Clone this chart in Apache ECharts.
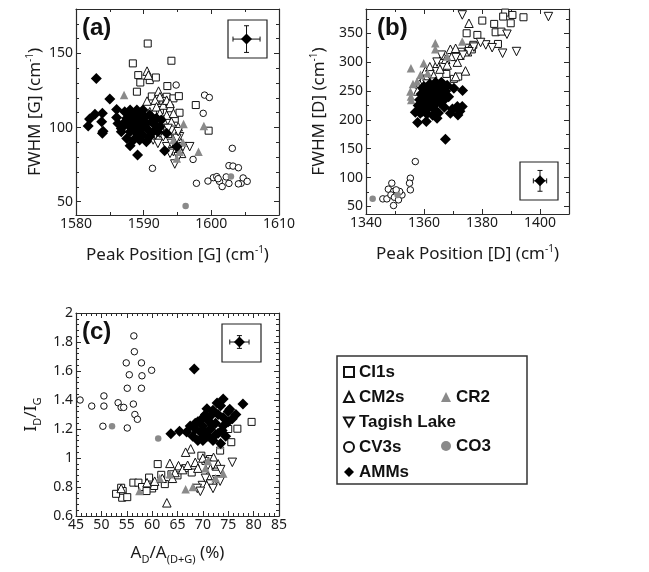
<!DOCTYPE html>
<html><head><meta charset="utf-8">
<script src="https://cdn.jsdelivr.net/npm/echarts@6/dist/echarts.min.js"></script>
<style>html,body{margin:0;padding:0;background:#fff}#c{width:649px;height:572px}</style>
</head><body><div id="c"></div>
<script>
// ---------- Panel (a): Peak Position [G] vs FWHM [G] ----------
const a_CI1s = [[1590.6,156.7],[1588.4,143.3],[1594.1,145.1],[1589.2,135.4],[1589.5,130.4],[1590.9,132.0],[1591.8,133.8],[1589.0,124.2],[1593.5,128.0],[1593.4,120.8],[1594.4,119.7],[1595.2,121.2],[1597.7,115.2],[1599.6,97.9],[1592.4,111.8],[1593.9,113.0],[1594.6,106.0],[1595.3,110.0],[1592.9,118.0],[1591.2,121.0]];
const a_CM2s = [[1590.5,138.1],[1590.7,135.4],[1590.5,117.9],[1592.2,124.6],[1592.4,120.8],[1591.7,118.5],[1592.9,115.2],[1593.4,118.5],[1593.9,116.3],[1591.9,114.0],[1590.9,110.7],[1592.4,109.6],[1593.4,108.4],[1594.4,109.6],[1592.9,105.1],[1594.1,103.9],[1591.7,106.2],[1595.1,100.6],[1594.6,97.2],[1593.6,96.1],[1595.3,91.6],[1592.4,101.7],[1591.2,100.6],[1595.6,82.6]];
const a_Tagish = [[1591.4,91.6],[1592.1,89.3],[1592.9,93.8],[1593.4,87.1],[1594.1,89.3],[1594.4,83.7],[1594.6,75.4],[1595.1,80.3],[1595.8,87.1],[1596.8,87.1],[1595.3,93.8],[1592.4,96.1],[1593.6,99.4],[1594.9,92.7],[1593.9,82.6],[1591.7,94.9],[1595.1,97.2]];
const a_CV3s = [[1594.8,128.7],[1599.0,121.9],[1599.7,120.3],[1598.8,109.6],[1597.3,78.5],[1591.3,72.5],[1597.8,62.4],[1603.1,86.0],[1602.6,74.3],[1603.2,74.0],[1604.0,72.9],[1599.5,63.9],[1600.3,66.2],[1600.8,66.9],[1601.2,63.7],[1601.6,60.2],[1602.2,66.7],[1604.4,62.4],[1604.7,66.0],[1605.3,63.7],[1604.0,62.0],[1601.0,65.5],[1602.6,62.3]];
const a_CR2 = [[1587.1,121.9],[1595.9,102.4],[1598.9,101.0],[1598.1,83.7],[1594.9,79.2],[1595.3,83.7],[1590.9,105.5],[1591.9,104.5],[1594.4,91.6],[1595.8,90.0],[1589.5,104.0]];
const a_CO3 = [[1596.2,47.1],[1602.9,66.9]];
const a_AMMs = [[1583.0,133.1],[1585.0,119.2],[1582.8,108.9],[1582.0,105.7],[1581.8,101.0],[1583.8,103.9],[1583.9,109.6],[1583.9,96.1],[1584.0,97.5],[1586.0,112.2],[1586.0,106.8],[1586.2,102.8],[1586.7,99.4],[1587.0,102.8],[1587.2,110.7],[1587.5,106.2],[1587.7,101.7],[1588.0,97.2],[1588.2,109.6],[1588.5,105.1],[1588.7,100.6],[1589.0,96.1],[1589.2,108.4],[1589.4,103.9],[1589.7,99.4],[1589.9,94.9],[1590.2,107.3],[1590.4,102.8],[1590.7,98.3],[1590.9,93.8],[1587.5,92.7],[1588.5,91.6],[1589.4,91.6],[1590.4,90.4],[1591.4,97.2],[1591.7,101.7],[1591.9,106.2],[1592.1,97.2],[1592.4,100.6],[1592.6,105.1],[1587.0,101.7],[1586.7,97.2],[1588.0,111.8],[1589.0,111.8],[1589.9,111.8],[1590.9,108.4],[1591.2,103.9],[1588.0,87.8],[1589.1,81.5],[1593.1,84.4],[1594.9,87.1],[1593.4,96.1],[1588.2,104.0],[1589.0,103.0],[1590.0,104.5],[1588.6,98.5],[1587.9,106.5],[1589.6,106.5]];
const a_err = [[1605.2,159.7,2.0,9]];
const a_xTicks = [1580,1590,1600,1610];
const a_yTicks = [50,100,150];

// ---------- Panel (b): Peak Position [D] vs FWHM [D] ----------
const b_CI1s = [[1394.3,377.7],[1388.0,385.8],[1387.3,378.9],[1390.5,381.7],[1384.2,366.2],[1380.1,371.9],[1378.4,347.1],[1374.7,350.0],[1384.7,351.7],[1386.7,352.9],[1389.9,367.3],[1385.5,331.5],[1375.5,325.0],[1377.0,330.0],[1366.2,292.3],[1367.7,279.6],[1370.3,271.0],[1371.8,275.0],[1372.7,318.0],[1376.5,322.0]];
const b_CM2s = [[1375.5,367.3],[1369.1,322.3],[1370.9,324.0],[1372.4,312.0],[1369.6,310.0],[1366.5,312.0],[1367.5,305.0],[1374.3,284.8],[1364.5,298.0],[1362.0,292.0],[1360.5,285.0],[1359.6,270.0],[1358.5,262.0],[1357.8,250.0],[1363.0,280.0],[1365.5,288.0],[1370.9,275.0],[1368.0,295.0],[1371.5,300.0],[1375.0,318.0]];
const b_Tagish = [[1373.2,381.7],[1402.9,378.9],[1388.6,348.3],[1387.1,315.4],[1391.9,318.3],[1381.3,329.8],[1379.5,334.0],[1377.2,326.0],[1375.5,318.0],[1373.5,312.0],[1371.0,308.0],[1366.0,312.0],[1364.5,300.0],[1362.0,278.0],[1361.0,262.0],[1383.5,325.0]];
const b_CV3s = [[1357.0,127.8],[1355.3,99.0],[1355.0,90.4],[1355.3,78.8],[1348.9,90.4],[1347.7,80.0],[1349.5,76.0],[1350.6,73.4],[1345.8,63.2],[1347.2,63.2],[1348.6,70.0],[1349.8,66.0],[1349.5,51.7],[1351.2,61.5],[1352.4,70.0],[1351.6,76.0],[1350.4,78.8]];
const b_CR2 = [[1355.5,289.4],[1355.3,249.0],[1355.5,240.4],[1355.6,234.6],[1363.9,332.7],[1363.9,322.3],[1359.9,298.1],[1357.6,266.3],[1361.3,280.8],[1368.0,309.6],[1373.2,335.6],[1358.8,278.0],[1356.2,262.0]];
const b_CO3 = [[1342.3,63.2],[1350.9,70.0]];
const b_AMMs = [[1367.4,166.5],[1357.8,195.4],[1360.8,197.1],[1364.5,202.9],[1369.1,211.5],[1371.7,208.6],[1371.5,223.1],[1373.2,223.1],[1373.3,250.8],[1370.3,254.8],[1357.0,213.2],[1358.7,211.5],[1363.9,217.3],[1372.4,215.0],[1369.8,219.0],[1358.0,225],[1358.5,235],[1359.0,245],[1359.5,215],[1360.0,230],[1360.5,240],[1361.0,250],[1361.5,220],[1362.0,235],[1362.5,245],[1363.0,255],[1363.5,225],[1364.0,240],[1364.5,250],[1365.0,260],[1365.5,230],[1366.0,245],[1366.5,255],[1367.0,235],[1367.5,250],[1368.0,260],[1362.0,262],[1364.0,265],[1366.0,265],[1360.0,258],[1361.0,210],[1363.0,208],[1365.0,212],[1367.0,222],[1368.5,240],[1359.5,255],[1362.5,228],[1364.5,232],[1366.5,238],[1360.5,222]];
const b_err = [[1400.0,94.4,2.3,18]];
const b_xTicks = [1340,1360,1380,1400];
const b_yTicks = [50,100,150,200,250,300,350];

// ---------- Panel (c): A_D/A_(D+G) vs I_D/I_G ----------
const c_CI1s = [[79.6,1.249],[76.8,1.202],[75.6,1.109],[73.4,1.051],[61.1,0.958],[63.8,0.888],[61.8,0.884],[59.4,0.865],[56.3,0.83],[57.3,0.83],[53.9,0.795],[54.2,0.772],[54.1,0.726],[52.9,0.753],[55.1,0.730],[69.7,1.016],[71.4,0.993],[70.5,0.98],[72.5,0.94],[66.5,0.93],[65.0,0.88],[62.5,0.82],[60.0,0.79],[58.0,0.80],[67.8,0.90],[75.0,1.20],[58.9,0.772],[60.4,0.807]];
const c_CM2s = [[67.6,1.063],[66.6,1.04],[63.5,0.963],[65.2,0.947],[62.9,0.691],[53.9,0.79],[59.0,0.83],[60.5,0.84],[62.0,0.86],[64.5,0.90],[66.0,0.92],[68.5,0.97],[70.0,1.00],[72.1,1.005],[73.0,0.96],[69.0,0.93],[71.0,0.88],[67.0,0.95],[64.0,0.86]];
const c_Tagish = [[75.8,0.97],[71.0,0.95],[72.0,0.95],[72.7,0.85],[73.4,0.84],[69.9,0.81],[68.9,0.79],[70.5,0.86],[71.5,0.82],[73.5,0.92],[69.5,0.77],[72.0,0.79]];
const c_CV3s = [[56.4,1.842],[56.5,1.733],[54.9,1.656],[55.5,1.574],[57.9,1.656],[58.0,1.567],[59.9,1.605],[55.1,1.481],[57.9,1.481],[45.8,1.40],[48.1,1.358],[50.5,1.358],[50.5,1.428],[53.3,1.381],[53.9,1.349],[54.4,1.349],[56.3,1.372],[56.6,1.30],[57.1,1.267],[50.3,1.219],[55.1,1.207]];
const c_CR2 = [[57.5,0.772],[63.5,0.888],[74.0,0.893],[66.6,0.784],[73.4,1.09],[68.0,0.80],[70.5,0.93],[61.5,0.86],[72.5,0.86],[71.0,0.98]];
const c_CO3 = [[52.1,1.219],[61.2,1.135]];
const c_AMMs = [[68.3,1.614],[74.0,1.407],[77.9,1.372],[75.3,1.337],[63.7,1.167],[65.4,1.184],[67.5,1.22],[68.0,1.15],[68.5,1.20],[69.0,1.25],[69.5,1.18],[70.0,1.12],[70.0,1.22],[70.5,1.30],[71.0,1.15],[71.0,1.26],[71.5,1.20],[72.0,1.33],[72.0,1.12],[72.5,1.24],[73.0,1.17],[73.0,1.30],[73.5,1.36],[74.0,1.22],[74.0,1.28],[74.5,1.15],[75.0,1.25],[75.0,1.32],[69.0,1.12],[70.5,1.18],[71.5,1.29],[72.5,1.16],[68.5,1.24],[73.5,1.10],[66.8,1.18],[75.8,1.27],[76.5,1.30],[70.8,1.34],[72.8,1.38],[69.8,1.27],[71.8,1.23],[73.8,1.19],[70.2,1.15]];
const c_err = [[77.2,1.80,1.9,0.044]];
const c_xTicks = [45,50,55,60,65,70,75,80,85];
const c_yTicks = [0.6,0.8,1,1.2,1.4,1.6,1.8,2];

// ---------- styling ----------
const AX = '#2a2a2a', TXT = '#1a1a1a', GRAY = '#8a8a8a';
const FONT = '"Noto Sans", "DejaVu Sans", sans-serif';
const BOLD = '"Liberation Sans", Arial, sans-serif';

function steps(min, max, step) {
  const out = [];
  for (let i = 0; min + i * step <= max + 1e-9; i++) out.push(+(min + i * step).toFixed(4));
  return out;
}

const richName = {
  sup: {fontSize: 10, fontFamily: FONT, color: TXT, verticalAlign: 'top', lineHeight: 20},
  sub: {fontSize: 11, fontFamily: FONT, color: TXT, verticalAlign: 'bottom', lineHeight: 24},
};

function makeAxes(dim, g, cfg) {
  const isX = dim === 'x';
  const posMain = isX ? 'bottom' : 'left', posOpp = isX ? 'top' : 'right';
  const base = () => ({
    gridIndex: g, type: 'value', min: cfg.min, max: cfg.max,
    splitLine: {show: false}, axisPointer: {show: false},
    axisLine: {show: true, onZero: false, lineStyle: {color: AX, width: 1.2}}
  });
  const main = Object.assign(base(), {
    position: posMain,
    axisTick: {show: true, inside: true, length: 5, customValues: cfg.major, lineStyle: {color: AX}},
    axisLabel: {show: true, customValues: cfg.major, margin: cfg.margin, fontSize: 14, fontFamily: FONT, color: TXT, formatter: v => String(v)},
    name: cfg.name, nameLocation: 'middle', nameGap: cfg.gap,
    nameTextStyle: {fontSize: 17, fontFamily: FONT, color: TXT, lineHeight: 20, rich: richName}
  });
  const minor = Object.assign(base(), {
    position: posMain, axisLine: {show: false, onZero: false},
    axisTick: {show: true, inside: true, length: 3, customValues: cfg.minor, lineStyle: {color: AX}},
    axisLabel: {show: false}
  });
  const opp = Object.assign(base(), {
    position: posOpp,
    axisTick: {show: true, inside: true, length: 5, customValues: cfg.major, lineStyle: {color: AX}},
    axisLabel: {show: false}
  });
  const oppMinor = Object.assign(base(), {
    position: posOpp, axisLine: {show: false, onZero: false},
    axisTick: {show: true, inside: true, length: 3, customValues: cfg.minor, lineStyle: {color: AX}},
    axisLabel: {show: false}
  });
  return [main, minor, opp, oppMinor];
}

const grids = [
  {left: 76, top: 9, width: 203, height: 206},
  {left: 366, top: 9, width: 203, height: 205},
  {left: 76, top: 313, width: 203, height: 203}
];

const xAxes = [].concat(
  makeAxes('x', 0, {min: 1580, max: 1610, major: a_xTicks, minor: steps(1585, 1605, 10), margin: 2, gap: 30, name: 'Peak Position [G] (cm{sup|-1})'}),
  makeAxes('x', 1, {min: 1340, max: 1410, major: b_xTicks, minor: steps(1350, 1390, 20), margin: 2, gap: 30, name: 'Peak Position [D] (cm{sup|-1})'}),
  makeAxes('x', 2, {min: 45, max: 85, major: c_xTicks, minor: steps(45, 85, 1), margin: 2, gap: 25, name: 'A{sub|D}/A{sub|(D+G)} (%)'})
);
const yAxes = [].concat(
  makeAxes('y', 0, {min: 41, max: 180, major: a_yTicks, minor: steps(50, 170, 10), margin: 3, gap: 31, name: 'FWHM [G] (cm{sup|-1})'}),
  makeAxes('y', 1, {min: 37, max: 392, major: b_yTicks, minor: steps(75, 375, 50), margin: 3, gap: 37, name: 'FWHM [D] (cm{sup|-1})'}),
  makeAxes('y', 2, {min: 0.6, max: 2, major: c_yTicks, minor: steps(0.6, 2, 0.04), margin: 3, gap: 33, name: 'I{sub|D}/I{sub|G}'})
);

const openStyle = {color: '#fff', borderColor: '#111', borderWidth: 1, opacity: 1};
const grayStyle = {color: GRAY, borderWidth: 0, opacity: 1};
const blackStyle = {color: '#000', borderWidth: 0, opacity: 1};

function sc(name, g, data, symbol, size, style, rotate, z) {
  return {
    type: 'scatter', name: name, xAxisIndex: 4 * g, yAxisIndex: 4 * g,
    data: data, symbol: symbol, symbolSize: size, symbolRotate: rotate || 0,
    itemStyle: style, z: z || 2, silent: true, animation: false
  };
}

function errSeries(g, data) {
  return {
    type: 'custom', xAxisIndex: 4 * g, yAxisIndex: 4 * g, data: data, z: 5, silent: true, animation: false,
    renderItem: function (params, api) {
      const x = api.value(0), y = api.value(1), ex = api.value(2), ey = api.value(3);
      const l = api.coord([x - ex, y]), r = api.coord([x + ex, y]);
      const t = api.coord([x, y + ey]), b = api.coord([x, y - ey]);
      const st = {stroke: '#111', lineWidth: 1};
      const cap = 2.5;
      return {type: 'group', children: [
        {type: 'line', shape: {x1: l[0], y1: l[1], x2: r[0], y2: r[1]}, style: st},
        {type: 'line', shape: {x1: t[0], y1: t[1], x2: b[0], y2: b[1]}, style: st},
        {type: 'line', shape: {x1: l[0], y1: l[1] - cap, x2: l[0], y2: l[1] + cap}, style: st},
        {type: 'line', shape: {x1: r[0], y1: r[1] - cap, x2: r[0], y2: r[1] + cap}, style: st},
        {type: 'line', shape: {x1: t[0] - cap, y1: t[1], x2: t[0] + cap, y2: t[1]}, style: st},
        {type: 'line', shape: {x1: b[0] - cap, y1: b[1], x2: b[0] + cap, y2: b[1]}, style: st}
      ]};
    }
  };
}

const panels = [
  [a_CI1s, a_CM2s, a_Tagish, a_CV3s, a_CR2, a_CO3, a_AMMs, a_err],
  [b_CI1s, b_CM2s, b_Tagish, b_CV3s, b_CR2, b_CO3, b_AMMs, b_err],
  [c_CI1s, c_CM2s, c_Tagish, c_CV3s, c_CR2, c_CO3, c_AMMs, c_err]
];

const series = [];
panels.forEach(function (p, g) {
  series.push(sc('CI1s', g, p[0], 'rect', 7, openStyle, 0, 2));
  series.push(sc('CM2s', g, p[1], 'triangle', 8.5, openStyle, 0, 2));
  series.push(sc('Tagish Lake', g, p[2], 'triangle', 8.5, openStyle, 180, 2));
  series.push(sc('CV3s', g, p[3], 'circle', 6.5, openStyle, 0, 2));
  series.push(sc('CR2', g, p[4], 'triangle', 8.5, grayStyle, 0, 3));
  series.push(sc('CO3', g, p[5], 'circle', 6.5, grayStyle, 0, 3));
  series.push(sc('AMMs', g, p[6], 'diamond', 11, blackStyle, 0, 4));
  series.push(errSeries(g, p[7]));
  series.push(sc('err', g, p[7].map(d => [d[0], d[1]]), 'diamond', 11, blackStyle, 0, 6));
});

const legendText = {fontSize: 17, fontWeight: 'bold', fontFamily: BOLD, color: '#111', lineHeight: 20};

const option = {
  backgroundColor: '#fff',
  animation: false,
  grid: grids,
  xAxis: xAxes,
  yAxis: yAxes,
  title: [
    {text: '(a)', left: 77, top: 11, padding: 5, textStyle: {fontSize: 24, fontWeight: 'bold', fontFamily: BOLD, color: '#111'}},
    {text: '(b)', left: 372, top: 11, padding: 5, textStyle: {fontSize: 24, fontWeight: 'bold', fontFamily: BOLD, color: '#111'}},
    {text: '(c)', left: 77, top: 315, padding: 5, textStyle: {fontSize: 24, fontWeight: 'bold', fontFamily: BOLD, color: '#111'}}
  ],
  legend: [
    {data: ['CI1s', 'CM2s', {name: 'Tagish Lake', icon: 'path://M0,0L10,0L5,9Z'}, 'CV3s', 'AMMs'], orient: 'vertical', left: 343, top: 362, padding: 0,
     itemWidth: 10, itemHeight: 10, itemGap: 5, selectedMode: false, textStyle: legendText},
    {data: ['CR2', 'CO3'], orient: 'vertical', left: 441, top: 387, padding: 0,
     itemWidth: 10, itemHeight: 10, itemGap: 29, selectedMode: false, textStyle: legendText}
  ],
  graphic: [
    {type: 'rect', shape: {x: 228, y: 20, width: 39, height: 38}, style: {fill: 'none', stroke: '#222', lineWidth: 1.2}, z: 10},
    {type: 'rect', shape: {x: 520, y: 162, width: 38, height: 38}, style: {fill: 'none', stroke: '#222', lineWidth: 1.2}, z: 10},
    {type: 'rect', shape: {x: 222, y: 324, width: 39, height: 38}, style: {fill: 'none', stroke: '#222', lineWidth: 1.2}, z: 10},
    {type: 'rect', shape: {x: 337, y: 356, width: 190, height: 128}, style: {fill: 'none', stroke: '#333', lineWidth: 1.5}, z: 10}
  ],
  series: series
};

const chart = echarts.init(document.getElementById('c'), null, {renderer: 'canvas'});
chart.setOption(option);
</script>
</body></html>
